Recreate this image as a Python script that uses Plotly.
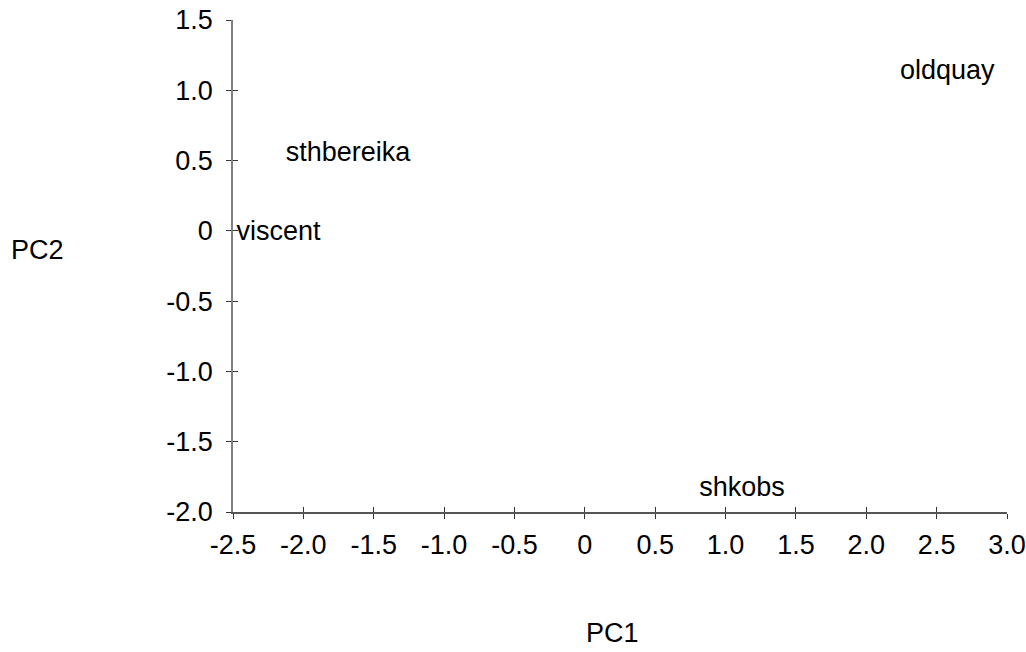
import plotly.graph_objects as go

# PCA site scores (PC1, PC2) with site names
sites = ["oldquay", "sthbereika", "viscent", "shkobs"]
pc1 = [2.575, -1.683, -2.177, 1.117]
pc2 = [1.125, 0.545, -0.02, -1.835]

x_ticks = [-2.5, -2.0, -1.5, -1.0, -0.5, 0, 0.5, 1.0, 1.5, 2.0, 2.5, 3.0]
x_tick_text = ["-2.5", "-2.0", "-1.5", "-1.0", "-0.5", "0", "0.5", "1.0", "1.5", "2.0", "2.5", "3.0"]
y_ticks = [-2.0, -1.5, -1.0, -0.5, 0, 0.5, 1.0, 1.5]
y_tick_text = ["-2.0", "-1.5", "-1.0", "-0.5", "0", "0.5", "1.0", "1.5"]

FONT = "Liberation Sans, Arial, Helvetica, sans-serif"
L, R, T, B = 233, 19, 20, 140
W, H = 1026, 652
X_RANGE = [-2.5, 3.0]
Y_RANGE = [-2.0, 1.5]

fig = go.Figure()
fig.add_trace(go.Scatter(
    x=pc1, y=pc2, text=sites, mode="text",
    textposition="middle center",
    textfont=dict(family=FONT, size=27, color="black"),
    cliponaxis=False, hoverinfo="text", showlegend=False,
))
# empty trace so the overlay axes (inward half of the crossing ticks) get drawn
fig.add_trace(go.Scatter(x=[None], y=[None], xaxis="x2", yaxis="y2",
                         mode="markers", showlegend=False, hoverinfo="skip"))

axis_common = dict(
    showgrid=False, zeroline=False, showline=True,
    linewidth=1.5, automargin=False, fixedrange=True,
    ticklen=5, tickcolor="#333333", tickwidth=1,
    tickfont=dict(family=FONT, size=27, color="black"),
)

fig.update_layout(
    xaxis=dict(range=X_RANGE, tickvals=x_ticks, ticktext=x_tick_text,
               linecolor="#555555", ticks="outside", ticklabelstandoff=3, **axis_common),
    yaxis=dict(range=Y_RANGE, tickvals=y_ticks, ticktext=y_tick_text,
               linecolor="#808080", ticks="outside", ticklabelstandoff=8, **axis_common),
    xaxis2=dict(range=X_RANGE, tickvals=x_ticks, overlaying="x", side="bottom",
                anchor="y2", showticklabels=False, ticks="inside",
                linecolor="#555555", **axis_common),
    yaxis2=dict(range=Y_RANGE, tickvals=y_ticks, overlaying="y", side="left",
                anchor="x2", showticklabels=False, ticks="inside",
                linecolor="#808080", **axis_common),
)

# axis titles placed at fixed pixel positions
pw, ph = W - L - R, H - T - B


def paper_xy(px, py):
    return (px - L) / pw, (H - B - py) / ph


titles = [("PC1", 612, 633), ("PC2", 37, 250)]
annotations = []
for label, px, py in titles:
    ax, ay = paper_xy(px, py)
    annotations.append(dict(text=label, x=ax, y=ay, xref="paper", yref="paper",
                            xanchor="center", yanchor="middle", showarrow=False,
                            font=dict(family=FONT, size=27, color="black")))

fig.update_layout(
    width=W, height=H,
    margin=dict(l=L, r=R, t=T, b=B, autoexpand=False),
    plot_bgcolor="white", paper_bgcolor="white",
    font=dict(family=FONT, color="black"),
    annotations=annotations,
)

fig.write_html("out.html")
